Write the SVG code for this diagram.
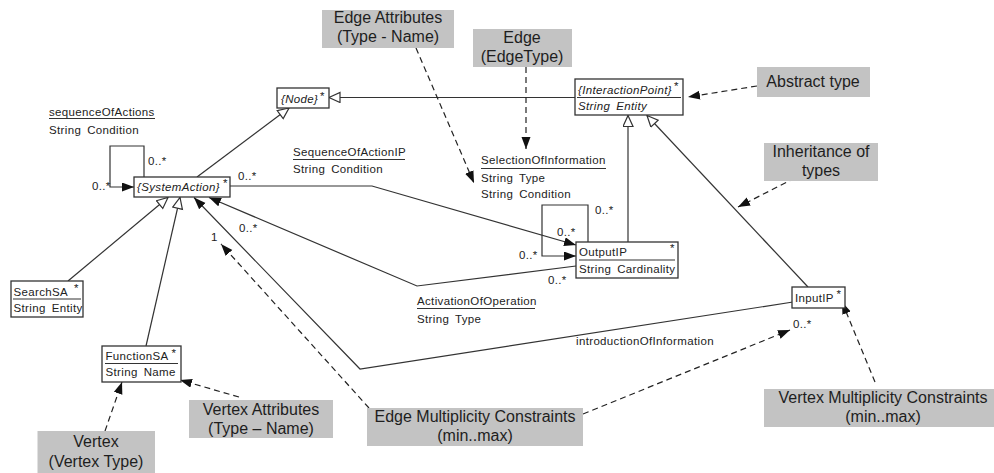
<svg xmlns="http://www.w3.org/2000/svg" width="994" height="473" viewBox="0 0 994 473">
<style>
  .box{fill:#fff;stroke:#333;stroke-width:1.3}
  .sep{stroke:#333;stroke-width:1.1}
  .t{font-family:"Liberation Sans",Arial,sans-serif;font-size:11.5px;letter-spacing:.35px;word-spacing:2.5px;fill:#222}
  .i{font-style:italic}
  .note{fill:#c3c3c3}
  .nt{font-family:"Liberation Sans",Arial,sans-serif;font-size:16px;text-anchor:middle;fill:#1e1e1e}
  .ln{fill:none;stroke:#333;stroke-width:1.2}
  .dash{fill:none;stroke:#222;stroke-width:1.2;stroke-dasharray:6 4}
  .ul{stroke:#333;stroke-width:1.2}
</style>
<defs>
  <marker id="gen" markerUnits="userSpaceOnUse" markerWidth="14" markerHeight="12" refX="12" refY="5.5" orient="auto">
    <path d="M1,0.5 L12,5.5 L1,10.5 z" fill="#fff" stroke="#333" stroke-width="1.2"/>
  </marker>
  <marker id="arr" markerUnits="userSpaceOnUse" markerWidth="14" markerHeight="10" refX="12" refY="4.5" orient="auto">
    <path d="M0,0 L12,4.5 L0,9 z" fill="#111"/>
  </marker>
</defs>

<!-- connectors -->
<g id="connectors">
  <!-- generalizations -->
  <path class="ln" d="M197,177 L289,108" marker-end="url(#gen)"/>
  <path class="ln" d="M575,97.5 L329,97.5" marker-end="url(#gen)"/>
  <path class="ln" d="M68,281 L168,197.5" marker-end="url(#gen)"/>
  <path class="ln" d="M146,346 L180,197.5" marker-end="url(#gen)"/>
  <path class="ln" d="M628,242 L628,115.5" marker-end="url(#gen)"/>
  <path class="ln" d="M808,287 L647,115.5" marker-end="url(#gen)"/>
  <!-- associations -->
  <path class="ln" d="M144,177 L144,146 L110,146 L110,187 L134,187" marker-end="url(#arr)"/>
  <path class="ln" d="M230,186 L372,186 L576,245" marker-end="url(#arr)"/>
  <path class="ln" d="M588,242 L588,205 L542,205 L542,256 L576,256" marker-end="url(#arr)"/>
  <path class="ln" d="M576,266 L417,286 L209,197.5" marker-end="url(#arr)"/>
  <path class="ln" d="M793,302 L360,369 L194,197.5" marker-end="url(#arr)"/>
  <!-- annotation pointers -->
  <path class="dash" d="M416,48 L474,183" marker-end="url(#arr)"/>
  <path class="dash" d="M526,67 L526,149" marker-end="url(#arr)"/>
  <path class="dash" d="M757,86 L688,97" marker-end="url(#arr)"/>
  <path class="dash" d="M795,178 L738,207" marker-end="url(#arr)"/>
  <path class="dash" d="M875,382 L842,302" marker-end="url(#arr)"/>
  <path class="dash" d="M369,408 L221,244" marker-end="url(#arr)"/>
  <path class="dash" d="M583,414 L790,330" marker-end="url(#arr)"/>
  <path class="dash" d="M239,397 L180,380" marker-end="url(#arr)"/>
  <path class="dash" d="M105,431 L122,382" marker-end="url(#arr)"/>
</g>

<!-- edge labels -->
<g id="edge-labels">
  <text class="t" x="49" y="116">sequenceOfActions</text>
  <line class="ul" x1="49" y1="118.5" x2="155" y2="118.5"/>
  <text class="t" x="49" y="134">String Condition</text>

  <text class="t" x="293" y="156">SequenceOfActionIP</text>
  <line class="ul" x1="293" y1="159.5" x2="405" y2="159.5"/>
  <text class="t" x="293" y="173">String Condition</text>

  <text class="t" x="481" y="164">SelectionOfInformation</text>
  <line class="ul" x1="481" y1="168.5" x2="606" y2="168.5"/>
  <text class="t" x="481" y="182">String Type</text>
  <text class="t" x="481" y="198">String Condition</text>

  <text class="t" x="417" y="305">ActivationOfOperation</text>
  <line class="ul" x1="417" y1="308.5" x2="535" y2="308.5"/>
  <text class="t" x="417" y="323">String Type</text>

  <text class="t" x="576" y="345">introductionOfInformation</text>

  <text class="t" x="148" y="165">0..*</text>
  <text class="t" x="92" y="190">0..*</text>
  <text class="t" x="238" y="180">0..*</text>
  <text class="t" x="239" y="231.5">0..*</text>
  <text class="t" x="211" y="241">1</text>
  <text class="t" x="595" y="214">0..*</text>
  <text class="t" x="557" y="235.5">0..*</text>
  <text class="t" x="519" y="259">0..*</text>
  <text class="t" x="548" y="284">0..*</text>
  <text class="t" x="793" y="328">0..*</text>
</g>

<!-- vertex types -->
<g id="node-node">
  <rect class="box" x="277" y="88" width="52" height="20"/>
  <text class="t i" x="281" y="103">{Node}</text>
  <text class="t" x="320" y="100">*</text>
</g>
<g id="node-interactionpoint">
  <rect class="box" x="575" y="79" width="108" height="36"/>
  <line class="sep" x1="577" y1="97.5" x2="681" y2="97.5"/>
  <text class="t i" x="578" y="94">{InteractionPoint}</text>
  <text class="t" x="674" y="90">*</text>
  <text class="t i" x="578" y="109.5">String Entity</text>
</g>
<g id="node-systemaction">
  <rect class="box" x="134" y="177" width="96" height="20"/>
  <text class="t i" x="137" y="191">{SystemAction}</text>
  <text class="t" x="223" y="187">*</text>
</g>
<g id="node-searchsa">
  <rect class="box" x="11" y="281" width="72" height="36"/>
  <line class="sep" x1="13" y1="299" x2="81" y2="299"/>
  <text class="t" x="13.5" y="295.5">SearchSA</text>
  <text class="t" x="74" y="292">*</text>
  <text class="t" x="13.5" y="312">String Entity</text>
</g>
<g id="node-functionsa">
  <rect class="box" x="102" y="346" width="79" height="36"/>
  <line class="sep" x1="105" y1="363.5" x2="178" y2="363.5"/>
  <text class="t" x="105.5" y="360">FunctionSA</text>
  <text class="t" x="171.5" y="357">*</text>
  <text class="t" x="105.5" y="376">String Name</text>
</g>
<g id="node-outputip">
  <rect class="box" x="576" y="242" width="102" height="36"/>
  <line class="sep" x1="579" y1="260" x2="675" y2="260"/>
  <text class="t" x="579" y="255.5">OutputIP</text>
  <text class="t" x="670" y="252">*</text>
  <text class="t" x="579" y="272.5">String Cardinality</text>
</g>
<g id="node-inputip">
  <rect class="box" x="792" y="287" width="53" height="21"/>
  <text class="t" x="795" y="302">InputIP</text>
  <text class="t" x="836.5" y="298">*</text>
</g>

<!-- annotations -->
<g id="note-edge-attributes">
  <rect class="note" x="322" y="10" width="132" height="38"/>
  <text class="nt" x="388" y="23">Edge Attributes</text>
  <text class="nt" x="388" y="42">(Type - Name)</text>
</g>
<g id="note-edge">
  <rect class="note" x="473" y="29" width="99" height="38"/>
  <text class="nt" x="522" y="42.5">Edge</text>
  <text class="nt" x="522" y="61.5">(EdgeType)</text>
</g>
<g id="note-abstract-type">
  <rect class="note" x="757" y="67" width="113" height="30"/>
  <text class="nt" x="813" y="87">Abstract type</text>
</g>
<g id="note-inheritance">
  <rect class="note" x="764" y="143" width="114" height="38"/>
  <text class="nt" x="821" y="157">Inheritance of</text>
  <text class="nt" x="821" y="175.5">types</text>
</g>
<g id="note-vertex-multiplicity">
  <rect class="note" x="764" y="389" width="238" height="38"/>
  <text class="nt" x="883" y="403">Vertex Multiplicity Constraints</text>
  <text class="nt" x="883" y="422">(min..max)</text>
</g>
<g id="note-edge-multiplicity">
  <rect class="note" x="367" y="408" width="216" height="38"/>
  <text class="nt" x="475" y="422">Edge Multiplicity Constraints</text>
  <text class="nt" x="475" y="441">(min..max)</text>
</g>
<g id="note-vertex-attributes">
  <rect class="note" x="189" y="400" width="144" height="38"/>
  <text class="nt" x="261" y="415">Vertex Attributes</text>
  <text class="nt" x="261" y="434">(Type – Name)</text>
</g>
<g id="note-vertex">
  <rect class="note" x="37.5" y="431" width="117.5" height="42"/>
  <text class="nt" x="96" y="447">Vertex</text>
  <text class="nt" x="96" y="467">(Vertex Type)</text>
</g>
</svg>
